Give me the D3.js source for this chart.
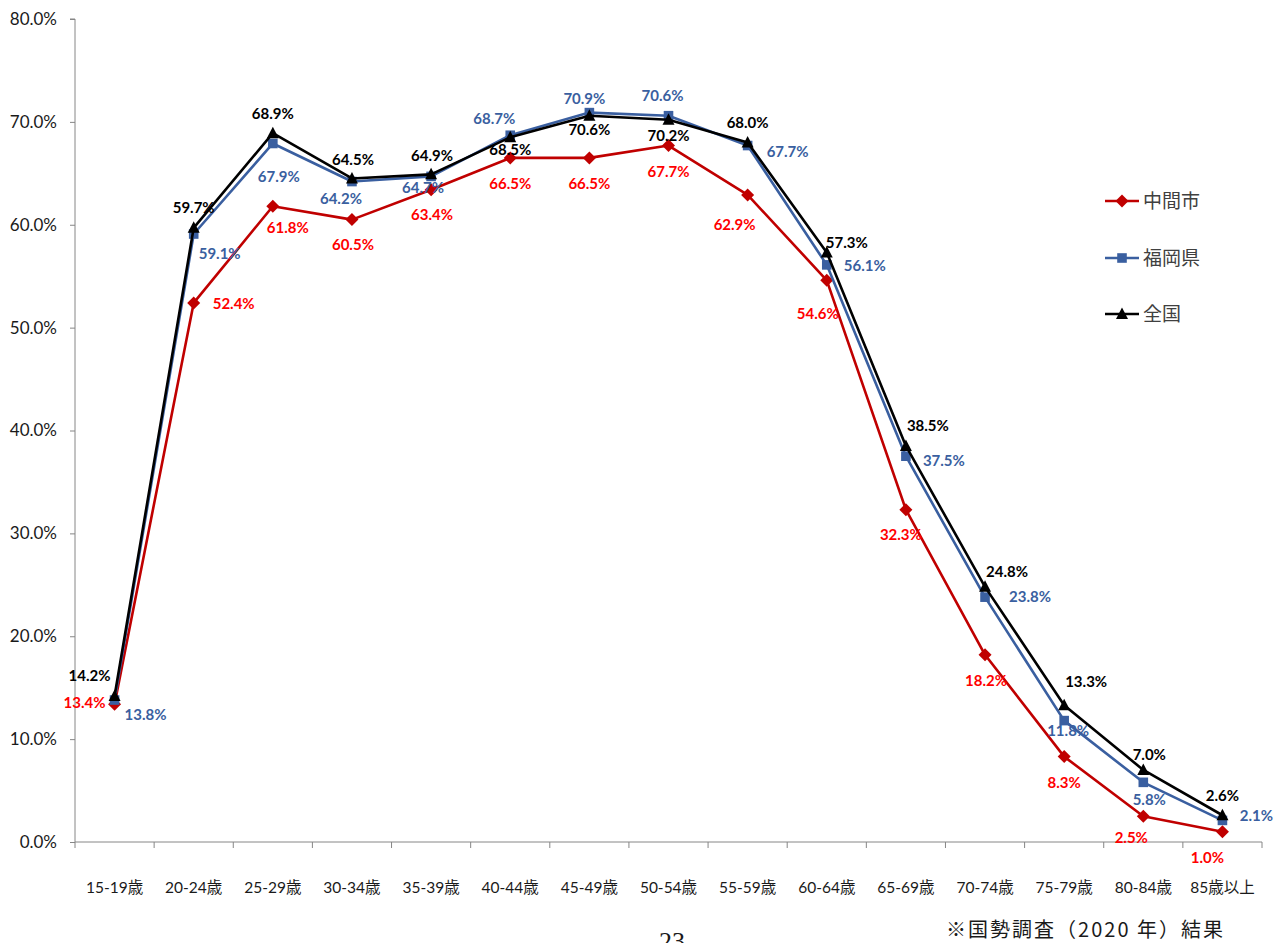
<!DOCTYPE html>
<html lang="ja">
<head>
<meta charset="utf-8">
<script src="https://cdn.jsdelivr.net/npm/d3@7"></script>
<style>
  html, body { margin: 0; padding: 0; background: #fff; }
  svg { display: block; }
</style>
</head>
<body>
<svg id="chart" width="1282" height="943"></svg>
<script>
// 年齢階級別就業率（%）
const categories = ["15-19歳", "20-24歳", "25-29歳", "30-34歳", "35-39歳", "40-44歳", "45-49歳",
  "50-54歳", "55-59歳", "60-64歳", "65-69歳", "70-74歳", "75-79歳", "80-84歳", "85歳以上"];
const seriesNames = ["中間市", "福岡県", "全国"];
const nakamaValues = [13.4, 52.4, 61.8, 60.5, 63.4, 66.5, 66.5, 67.7, 62.9, 54.6, 32.3, 18.2, 8.3, 2.5, 1.0];
const fukuokaValues = [13.8, 59.1, 67.9, 64.2, 64.7, 68.7, 70.9, 70.6, 67.7, 56.1, 37.5, 23.8, 11.8, 5.8, 2.1];
const zenkokuValues = [14.2, 59.7, 68.9, 64.5, 64.9, 68.5, 70.6, 70.2, 68.0, 57.3, 38.5, 24.8, 13.3, 7.0, 2.6];
const yTicks = [0, 10, 20, 30, 40, 50, 60, 70, 80];
const footnote = "※国勢調査（2020 年）結果";
const pageNumber = "23";

// Per-point data-label placement (dx, dy from the marker centre)
const labelOffsets = {
  "中間市": [[-30,-2],[40,1],[15,21],[1,25],[1,25],[0,26],[0,26],[0,26],[-13,30],[-9,33],[-5,25],[1,26],[0,26],[-12,21],[-15,26]],
  "福岡県": [[31,15],[26,20],[6,33],[-11,17],[-8,11],[-16,-17],[-5,-14],[-6,-20],[40,6],[38,1],[38,4],[45,-1],[4,10],[6,17],[34,-5]],
  "全国":   [[-25,-20],[0,-20],[0,-20],[1,-19],[1,-19],[0,12],[0,14],[0,16],[0,-20],[20,-10],[22,-20],[22,-15],[22,-24],[6,-15],[0,-20]]
};

const styles = {
  "中間市": { line: "#C00000", label: "#FF0000", marker: "diamond" },
  "福岡県": { line: "#3A5FA0", label: "#3A5FA0", marker: "square" },
  "全国":   { line: "#000000", label: "#000000", marker: "triangle" }
};

const series = [
  { name: "中間市", values: nakamaValues },
  { name: "福岡県", values: fukuokaValues },
  { name: "全国", values: zenkokuValues }
];

const markerPath = {
  diamond: "M0,-6.5L6.5,0L0,6.5L-6.5,0Z",
  square: "M-4.8,-4.8H4.8V4.8H-4.8Z",
  triangle: "M0,-6.5L6,5L-6,5Z"
};

const latin = "Lato, 'Noto Sans CJK JP', sans-serif";
const svg = d3.select("#chart");

const x = d3.scaleBand().domain(categories).range([75, 1262]);
const y = d3.scaleLinear().domain([0, 80]).range([842, 19]);
const cx = c => x(c) + x.bandwidth() / 2;

// Y axis
const yAxis = svg.append("g")
  .attr("transform", "translate(75,0)")
  .call(d3.axisLeft(y).tickValues(yTicks).tickFormat(d => d.toFixed(1) + "%").tickSize(5).tickPadding(13));
yAxis.select(".domain").attr("stroke", "#868686").attr("d", "M-5," + y(80) + "H0V" + y(0));
yAxis.selectAll(".tick line").attr("stroke", "#868686");
yAxis.selectAll(".tick text").attr("font-family", latin).attr("font-size", 17).attr("fill", "#1a1a1a");

// X axis (labels centred in each band, ticks on the band boundaries)
const xAxis = svg.append("g")
  .attr("transform", "translate(0," + y(0) + ")")
  .call(d3.axisBottom(x).tickSize(0).tickPadding(40));
xAxis.select(".domain").attr("stroke", "#868686").attr("d", "M75,0H1262");
xAxis.selectAll(".tick text").attr("font-family", latin).attr("font-size", 15.5).attr("fill", "#1a1a1a");
const bounds = categories.map(c => x(c)).concat([x.range()[1]]);
xAxis.selectAll(".bound").data(bounds).join("line")
  .attr("class", "bound")
  .attr("x1", d => d).attr("x2", d => d)
  .attr("y1", 0).attr("y2", 6)
  .attr("stroke", "#868686");

// Lines and markers
const line = d3.line().x((d, i) => cx(categories[i])).y(d => y(d));
series.forEach(s => {
  const st = styles[s.name];
  const g = svg.append("g");
  g.append("path").datum(s.values)
    .attr("d", line).attr("fill", "none")
    .attr("stroke", st.line).attr("stroke-width", 2.6).attr("stroke-linejoin", "round");
  g.selectAll("path.marker").data(s.values).join("path")
    .attr("class", "marker")
    .attr("d", markerPath[st.marker])
    .attr("transform", (d, i) => "translate(" + cx(categories[i]) + "," + y(d) + ")")
    .attr("fill", st.line);
});

// Data labels
series.forEach(s => {
  const st = styles[s.name];
  const offs = labelOffsets[s.name];
  svg.append("g").selectAll("text").data(s.values).join("text")
    .attr("x", (d, i) => cx(categories[i]) + offs[i][0])
    .attr("y", (d, i) => y(d) + offs[i][1])
    .attr("dy", "0.36em")
    .attr("text-anchor", "middle")
    .attr("font-family", latin)
    .attr("font-weight", 700)
    .attr("font-size", 15)
    .attr("fill", st.label)
    .text(d => d.toFixed(1) + "%");
});

// Legend
const legendY = [201, 258, 314];
const legend = svg.append("g");
seriesNames.forEach((name, i) => {
  const st = styles[name];
  const g = legend.append("g").attr("transform", "translate(1105," + legendY[i] + ")");
  g.append("line").attr("x1", 0).attr("x2", 34).attr("y1", 0).attr("y2", 0)
    .attr("stroke", st.line).attr("stroke-width", 2.6);
  g.append("path").attr("d", markerPath[st.marker]).attr("transform", "translate(17,0)").attr("fill", st.line);
  g.append("text").attr("x", 38).attr("y", 0).attr("dy", "0.36em")
    .attr("font-family", "'Noto Sans CJK JP', sans-serif").attr("font-size", 19)
    .attr("fill", "#404040").text(name);
});

// Source note and page number
svg.append("text").attr("x", 1225).attr("y", 930).attr("dy", "0.36em")
  .attr("text-anchor", "end")
  .attr("font-family", "'Noto Sans CJK JP', sans-serif").attr("font-size", 20)
  .attr("letter-spacing", 2)
  .attr("fill", "#1a1a1a").text(footnote);
svg.append("text").attr("x", 672).attr("y", 950)
  .attr("text-anchor", "middle")
  .attr("font-family", "'Liberation Serif', serif").attr("font-size", 26)
  .attr("fill", "#1a1a1a").text(pageNumber);
</script>
</body>
</html>
